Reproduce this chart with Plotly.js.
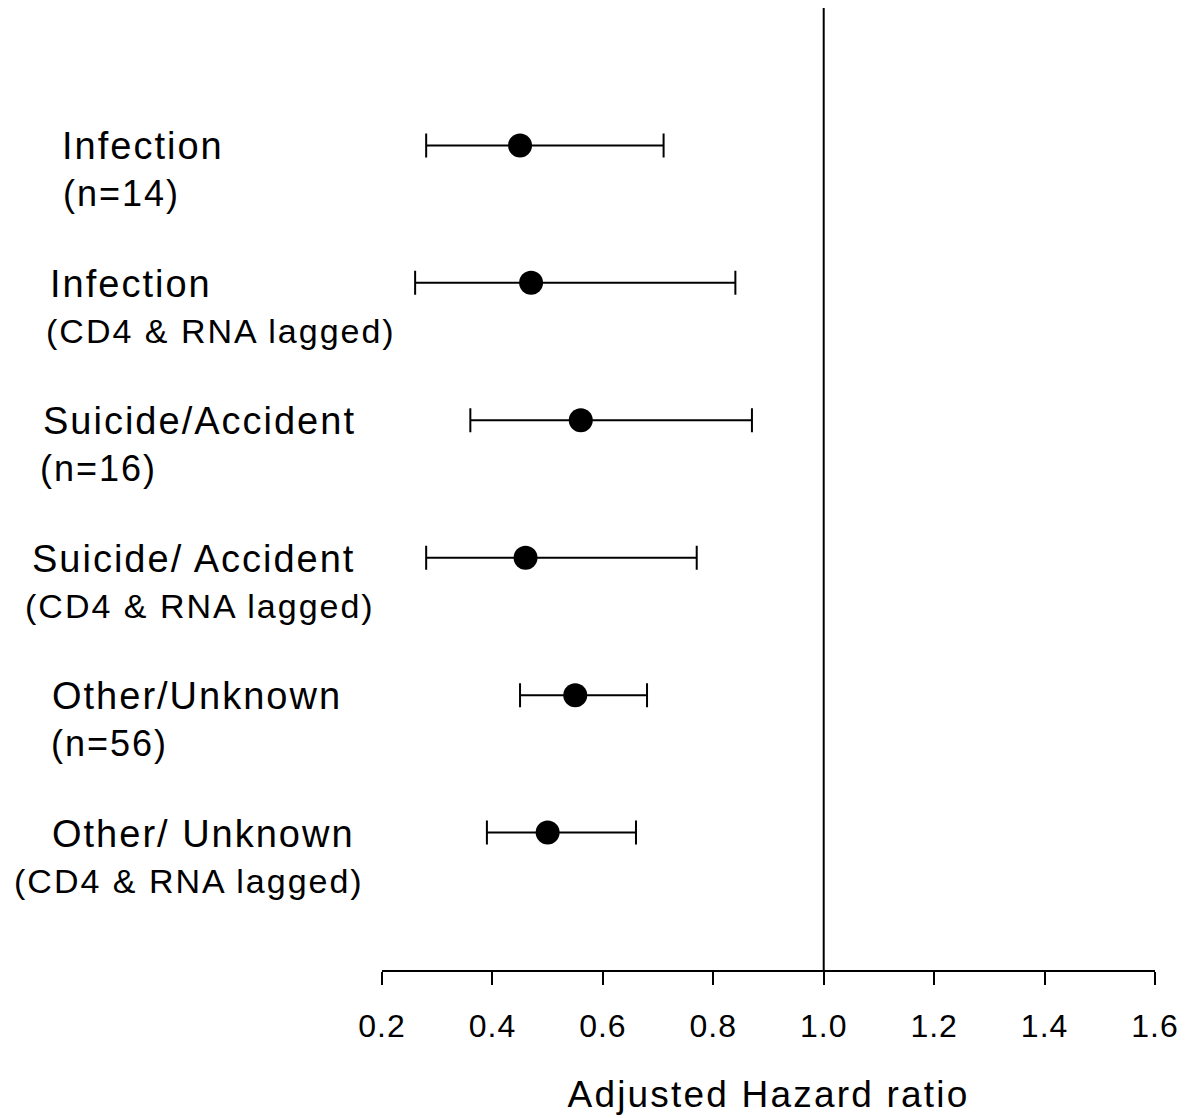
<!DOCTYPE html>
<html>
<head>
<meta charset="utf-8">
<script src="https://cdn.plot.ly/plotly-3.0.1.min.js"></script>
<style>
html,body{margin:0;padding:0;background:#fff;}
#chart .annotation-text{letter-spacing:2px;}
#chart .xtitle{letter-spacing:2.2px;}
#chart .xtick text{letter-spacing:1px;}
</style>
</head>
<body>
<div id="chart" style="width:1195px;height:1118px;"></div>
<script>
// Data
var labels = ["Infection", "Infection", "Suicide/Accident", "Suicide/ Accident", "Other/Unknown", "Other/ Unknown"];
var sublabels = ["(n=14)", "(CD4 & RNA lagged)", "(n=16)", "(CD4 & RNA lagged)", "(n=56)", "(CD4 & RNA lagged)"];
var hazardRatio = [0.45, 0.47, 0.56, 0.46, 0.55, 0.50];
var ciLower = [0.28, 0.26, 0.36, 0.28, 0.45, 0.39];
var ciUpper = [0.71, 0.84, 0.87, 0.77, 0.68, 0.66];
var tickValues = [0.2, 0.4, 0.6, 0.8, 1.0, 1.2, 1.4, 1.6];
var tickLabels = ["0.2", "0.4", "0.6", "0.8", "1.0", "1.2", "1.4", "1.6"];
var referenceValue = 1.0;
var axisTitle = "Adjusted Hazard ratio";

// Layout helpers (pixel positions of label centres)
var plotLeft = 382, plotWidth = 773;
var mainCenterPx = [143, 131, 199, 194, 197, 203];
var subCenterPx = [121, 221, 98, 200, 109, 189];

var rows = hazardRatio.map(function (_, i) { return i + 1; });
var font = "Liberation Sans, Arial, sans-serif";

var trace = {
  type: "scatter",
  mode: "markers",
  x: hazardRatio,
  y: rows,
  marker: { color: "#000", size: 24, symbol: "circle" },
  error_x: {
    type: "data",
    symmetric: false,
    array: hazardRatio.map(function (v, i) { return ciUpper[i] - v; }),
    arrayminus: hazardRatio.map(function (v, i) { return v - ciLower[i]; }),
    color: "#000",
    thickness: 2,
    width: 12
  },
  hoverinfo: "x",
  showlegend: false
};

var annotations = [];
labels.forEach(function (t, i) {
  annotations.push({
    text: t, xref: "paper", yref: "y",
    x: (mainCenterPx[i] - plotLeft) / plotWidth, y: rows[i], yshift: -1,
    xanchor: "center", yanchor: "middle", showarrow: false,
    font: { family: font, size: 38, color: "#000" }
  });
  annotations.push({
    text: sublabels[i], xref: "paper", yref: "y",
    x: (subCenterPx[i] - plotLeft) / plotWidth, y: rows[i], yshift: -48,
    xanchor: "center", yanchor: "middle", showarrow: false,
    font: { family: font, size: sublabels[i].length > 8 ? 34 : 36, color: "#000" }
  });
});

var layout = {
  width: 1195, height: 1118,
  margin: { l: plotLeft, r: 1195 - plotLeft - plotWidth, t: 8, b: 148, pad: 0 },
  paper_bgcolor: "#fff", plot_bgcolor: "#fff",
  font: { family: font, color: "#000" },
  xaxis: {
    range: [0.2, 1.6],
    tickvals: tickValues, ticktext: tickLabels,
    showline: true, linecolor: "#000", linewidth: 2,
    ticks: "outside", ticklen: 13, tickwidth: 2, tickcolor: "#000",
    showgrid: false, zeroline: false,
    tickfont: { family: font, size: 32, color: "#000" },
    ticklabelstandoff: 14,
    title: { text: axisTitle, font: { family: font, size: 37, color: "#000" }, standoff: 38 }
  },
  yaxis: {
    range: [7, 0], visible: false, showgrid: false, zeroline: false
  },
  shapes: [{
    type: "line", xref: "x", yref: "paper",
    x0: referenceValue, x1: referenceValue, y0: 0, y1: 1,
    line: { color: "#000", width: 2 }, layer: "below"
  }],
  annotations: annotations
};

Plotly.newPlot("chart", [trace], layout, { displayModeBar: false, staticPlot: true });
</script>
</body>
</html>
